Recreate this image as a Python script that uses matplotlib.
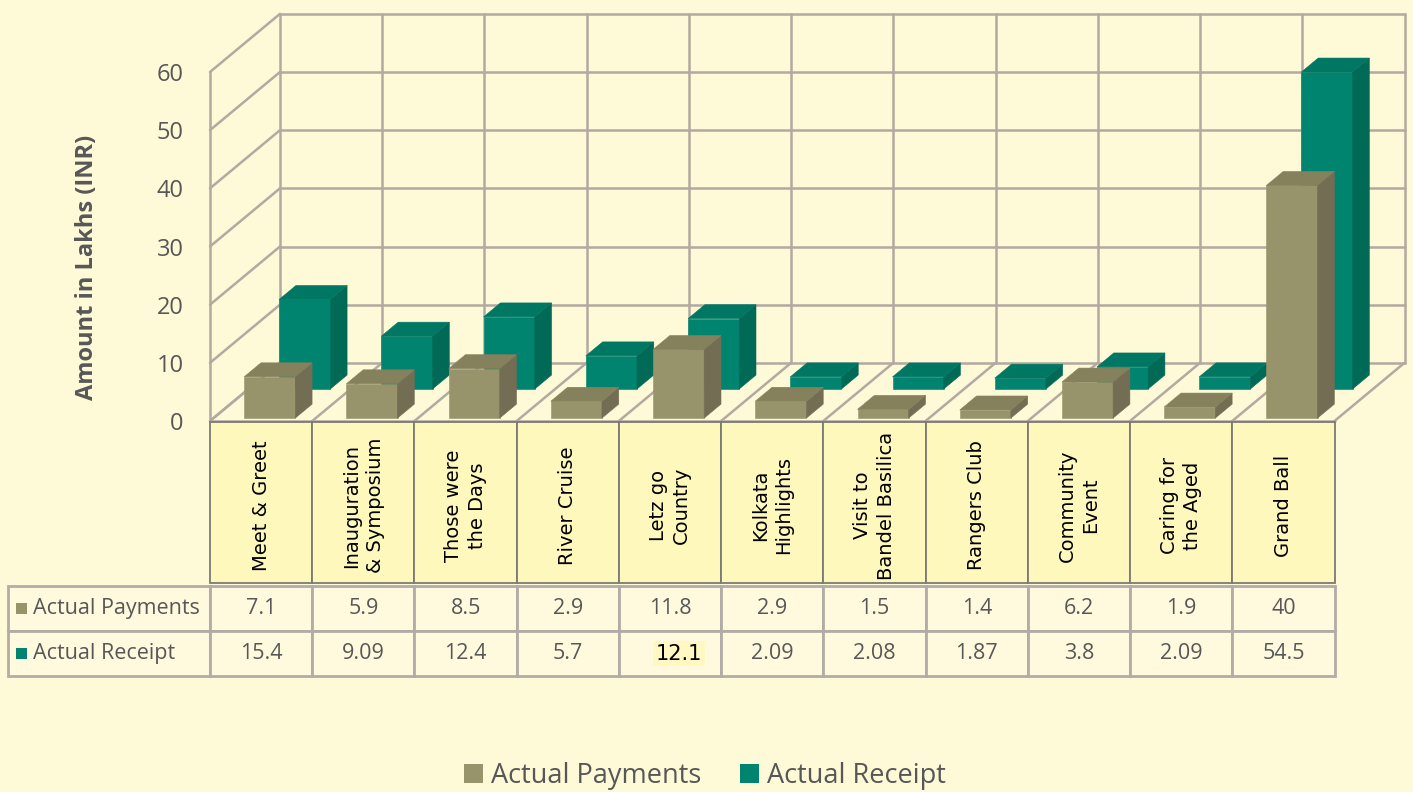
import matplotlib.pyplot as plt
from matplotlib.patches import Polygon, Rectangle, Patch

plt.rcParams["font.family"] = ["Open Sans", "DejaVu Sans"]

# data
events = ["Meet & Greet", "Inauguration\n& Symposium", "Those were\nthe Days",
          "River Cruise", "Letz go\nCountry", "Kolkata\nHighlights",
          "Visit to\nBandel Basilica", "Rangers Club", "Community\nEvent",
          "Caring for\nthe Aged", "Grand Ball"]
payments = [7.1, 5.9, 8.5, 2.9, 11.8, 2.9, 1.5, 1.4, 6.2, 1.9, 40]
receipts = [15.4, 9.09, 12.4, 5.7, 12.1, 2.09, 2.08, 1.87, 3.8, 2.09, 54.5]
series = ["Actual Payments", "Actual Receipt"]
yticks = [0, 10, 20, 30, 40, 50, 60]

# colours
BG = "#FEF9D7"
GRID = "#B3A9A1"
PAY = ("#97936A", "#736E53", "#85815D")   # front, side, top
REC = ("#00846F", "#006A57", "#007763")
TXT = "#575757"

W, H = 1413, 792
fig = plt.figure(figsize=(W / 100, H / 100), dpi=100, facecolor=BG)

# main plotting area (front face of the 3d box), pixel layout
X0, X1 = 210, 1334.5
Y0, Y60 = 421, 72
n = len(events)
CW = (X1 - X0) / n

ax = fig.add_axes([X0 / W, 1 - Y0 / H, (X1 - X0) / W, (Y0 - Y60) / H])
ax.set_xlim(0, n)
ax.set_ylim(0, 60)
ax.patch.set_visible(False)
for s in ax.spines.values():
    s.set_visible(False)
ax.set_xticks([])
ax.set_yticks(yticks)
ax.tick_params(axis="y", length=0, pad=19, labelsize=17, labelcolor=TXT)

DX = 70 / CW      # depth offset in category units
DY = 10.0         # depth offset in value units


def proj(x, v, d):
    return (x + d * DX, v + d * DY)


def line(p, q):
    ax.plot([p[0], q[0]], [p[1], q[1]], color=GRID, lw=1.8,
            clip_on=False, zorder=1, solid_capstyle="round")


# back wall, left wall, floor
for t in yticks:
    line(proj(0, t, 1), proj(n, t, 1))
    line(proj(0, t, 0), proj(0, t, 1))
for i in range(n + 1):
    line(proj(i, 0, 1), proj(i, yticks[-1], 1))
    line(proj(i, 0, 0), proj(i, 0, 1))
line(proj(0, 0, 0), proj(0, yticks[-1], 0))
line(proj(0, 0, 0), proj(n, 0, 0))


def bar3d(i, v, d0, d1, cols):
    x0 = i + 0.30
    x1 = x0 + 0.5
    front = [proj(x0, 0, d0), proj(x1, 0, d0), proj(x1, v, d0), proj(x0, v, d0)]
    side = [proj(x1, 0, d0), proj(x1, 0, d1), proj(x1, v, d1), proj(x1, v, d0)]
    top = [proj(x0, v, d0), proj(x1, v, d0), proj(x1, v, d1), proj(x0, v, d1)]
    for pts, c in zip((front, side, top), cols):
        ax.add_patch(Polygon(pts, closed=True, fc=c, ec=c, lw=0.4,
                             clip_on=False, zorder=3))


for i, v in enumerate(receipts):
    bar3d(i, v, 0.55, 0.79, REC)
for i, v in enumerate(payments):
    bar3d(i, v, 0.05, 0.29, PAY)

fig.text(87 / W, 1 - 267 / H, "Amount in Lakhs (INR)", rotation=90,
         ha="center", va="center", fontsize=17, fontweight="bold", color=TXT)

# table overlay in pixel coords
ov = fig.add_axes([0, 0, 1, 1])
ov.set_xlim(0, W)
ov.set_ylim(H, 0)
ov.axis("off")
ov.patch.set_visible(False)

HT, HB = 422, 583
for i, name in enumerate(events):
    ov.add_patch(Rectangle((X0 + i * CW, HT), CW, HB - HT, fc="#FFF8BD",
                           ec="#7C7A76", lw=1.3))
    ov.text(X0 + (i + 0.5) * CW, (HT + HB) / 2 + 3, name, rotation=90,
            ha="center", va="center", multialignment="center",
            fontsize=14, family="DejaVu Sans", color="black",
            linespacing=1.3)

rows = [586, 631, 676]
TL = 8
for r, (label, vals, col) in enumerate(zip(series, [payments, receipts],
                                             [PAY[0], REC[0]])):
    top, bot = rows[r], rows[r + 1]
    ov.add_patch(Rectangle((TL, top), X0 - TL, bot - top, fc="#FFFADD",
                           ec="#B2ACA7", lw=2))
    ov.add_patch(Rectangle((16, (top + bot) / 2 - 6), 11, 11, fc=col, ec="none"))
    ov.text(33, (top + bot) / 2, label, ha="left", va="center",
            fontsize=15.5, color=TXT)
    for i, v in enumerate(vals):
        ov.add_patch(Rectangle((X0 + i * CW, top), CW, bot - top,
                               fc="#FFFADD", ec="#B2ACA7", lw=2))
        cx = X0 + (i + 0.5) * CW
        if r == 1 and i == 4:
            ov.text(cx + 9, (top + bot) / 2, f"{v:g}", ha="center",
                    va="center", fontsize=15, family="DejaVu Sans",
                    color="black",
                    bbox=dict(fc="#FFF8C2", ec="none", pad=2))
        else:
            ov.text(cx, (top + bot) / 2, f"{v:g}", ha="center", va="center",
                    fontsize=15.5, color=TXT)

handles = [Patch(fc=PAY[0]), Patch(fc=REC[0])]
fig.legend(handles, series, loc="center", bbox_to_anchor=(705 / W, 1 - 776 / H),
           ncol=2, frameon=False, fontsize=19.5, labelcolor=TXT,
           handlelength=0.7, handleheight=0.7, handletextpad=0.3,
           columnspacing=1.4)

fig.savefig("out.png", dpi=100, facecolor=BG)
